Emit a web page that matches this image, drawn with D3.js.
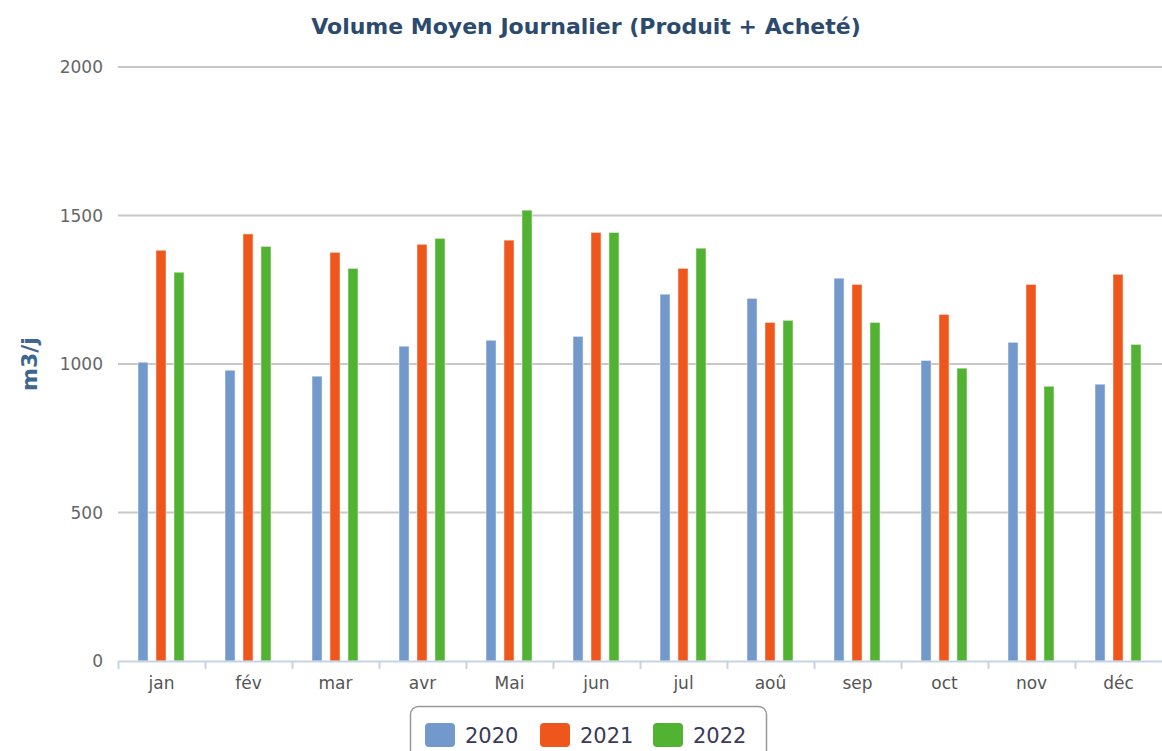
<!DOCTYPE html>
<html>
<head>
<meta charset="utf-8">
<script src="https://cdn.jsdelivr.net/npm/d3@7"></script>
<style>
  body { margin: 0; background: #fff; }
  svg text { font-family: "DejaVu Sans", Verdana, sans-serif; }
</style>
</head>
<body>
<div id="chart"></div>
<script>
// Data
const months = ['jan', 'fév', 'mar', 'avr', 'Mai', 'jun', 'jul', 'aoû', 'sep', 'oct', 'nov', 'déc'];
const years = ['2020', '2021', '2022'];
const values2020 = [1006, 979, 959, 1060, 1080, 1093, 1235, 1221, 1289, 1012, 1073, 932];
const values2021 = [1383, 1438, 1376, 1403, 1417, 1443, 1322, 1140, 1268, 1167, 1268, 1302];
const values2022 = [1309, 1396, 1322, 1423, 1518, 1443, 1390, 1147, 1140, 986, 925, 1066];
const yTicks = [0, 500, 1000, 1500, 2000];
const colors = ['#7399cc', '#ee561c', '#52b232'];

const width = 1162, height = 751;
const margin = { top: 67, right: 0, bottom: 90, left: 118 };

const svg = d3.select('#chart')
    .append('svg')
    .attr('width', width)
    .attr('height', height);

const series = [values2020, values2021, values2022];
const rows = months.map((m, i) => ({ month: m, vals: series.map(s => s[i]) }));

// Scales
const x = d3.scaleBand()
    .domain(months)
    .range([margin.left, width - margin.right]);

const x1 = d3.scaleBand()
    .domain(years)
    .range([20, 66])
    .paddingInner(0.44);

const y = d3.scaleLinear()
    .domain([0, 2000])
    .range([height - margin.bottom, margin.top]);

// Grid lines
svg.append('g')
    .selectAll('line')
    .data(yTicks.filter(t => t > 0))
    .join('line')
    .attr('x1', margin.left)
    .attr('x2', width)
    .attr('y1', d => y(d))
    .attr('y2', d => y(d))
    .attr('stroke', '#c8c8c8')
    .attr('stroke-width', 2);

// Y tick labels
svg.append('g')
    .selectAll('text')
    .data(yTicks)
    .join('text')
    .attr('x', 103)
    .attr('y', d => y(d) + 6)
    .attr('text-anchor', 'end')
    .attr('fill', '#666')
    .style('font-size', '17px')
    .text(d => d);

// Bars
const groups = svg.append('g')
    .selectAll('g')
    .data(rows)
    .join('g')
    .attr('transform', d => `translate(${x(d.month)},0)`);

groups.selectAll('rect')
    .data(d => d.vals.map((v, i) => ({ year: years[i], value: v, idx: i })))
    .join('rect')
    .attr('x', d => x1(d.year))
    .attr('y', d => y(d.value))
    .attr('width', x1.bandwidth())
    .attr('height', d => y(0) - y(d.value))
    .attr('fill', d => colors[d.idx])
    .attr('stroke', '#fff')
    .attr('stroke-opacity', 0.5)
    .attr('stroke-width', 1);

// X axis
const xAxis = d3.axisBottom(x).tickSize(0).tickPadding(16);
const gx = svg.append('g')
    .attr('transform', `translate(0,${y(0)})`)
    .call(xAxis);
gx.select('.domain').attr('stroke', '#c5d3e3').attr('stroke-width', 2);
gx.selectAll('text')
    .attr('fill', '#555')
    .style('font-size', '17px')
    .style('font-family', '"DejaVu Sans", sans-serif');

// Category separator ticks
svg.append('g')
    .selectAll('line')
    .data(months)
    .join('line')
    .attr('x1', d => x(d) + 0.5)
    .attr('x2', d => x(d) + 0.5)
    .attr('y1', y(0))
    .attr('y2', y(0) + 8)
    .attr('stroke', '#c5d3e3')
    .attr('stroke-width', 2);

// Title
svg.append('text')
    .attr('x', 586)
    .attr('y', 34)
    .attr('text-anchor', 'middle')
    .attr('fill', '#2c4a6e')
    .style('font-size', '22px')
    .style('font-weight', 'bold')
    .text('Volume Moyen Journalier (Produit + Acheté)');

// Y axis title
svg.append('text')
    .attr('transform', 'translate(37,364) rotate(-90)')
    .attr('text-anchor', 'middle')
    .attr('fill', '#3d6690')
    .style('font-size', '22px')
    .style('font-weight', 'bold')
    .text('m3/j');

// Legend
const legend = svg.append('g');
legend.append('rect')
    .attr('x', 410.5)
    .attr('y', 706.5)
    .attr('width', 356)
    .attr('height', 60)
    .attr('rx', 8)
    .attr('fill', '#fff')
    .attr('stroke', '#999')
    .attr('stroke-width', 1.5);

const legendX = d3.scaleOrdinal().domain(years).range([425, 540, 653]);
const items = legend.selectAll('g.item')
    .data(years)
    .join('g')
    .attr('class', 'item')
    .attr('transform', d => `translate(${legendX(d)},723)`);
items.append('rect')
    .attr('width', 30)
    .attr('height', 24)
    .attr('rx', 4)
    .attr('fill', (d, i) => colors[i]);
items.append('text')
    .attr('x', 40)
    .attr('y', 20)
    .attr('fill', '#3a3a5a')
    .style('font-size', '21px')
    .text(d => d);
</script>
</body>
</html>
